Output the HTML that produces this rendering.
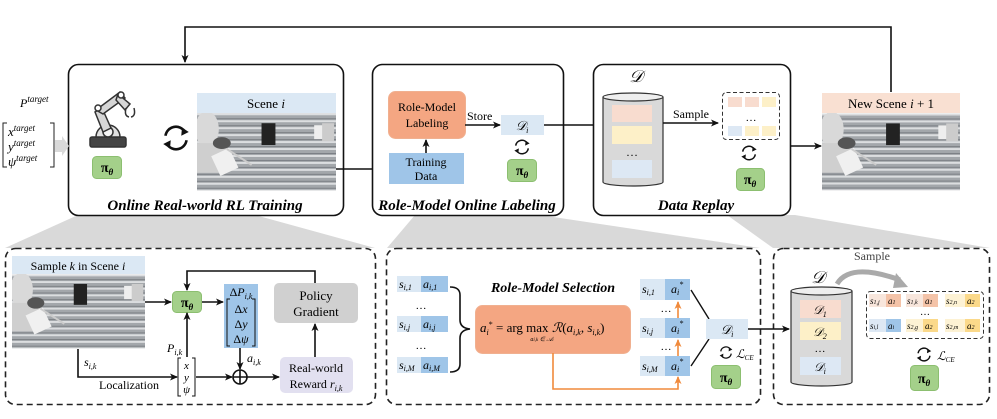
<!DOCTYPE html>
<html><head><meta charset="utf-8"><style>
html,body{margin:0;padding:0;background:#fff;}
svg{display:block;font-family:"Liberation Serif",serif;}
.i{font-style:italic;}
.b{font-weight:bold;font-style:italic;}
</style></head><body>
<svg width="997" height="419" viewBox="0 0 997 419" xmlns="http://www.w3.org/2000/svg">
<defs>
<marker id="ah" markerWidth="8" markerHeight="8" refX="7" refY="4" orient="auto" markerUnits="userSpaceOnUse"><path d="M0,0.5 L8,4 L0,7.5 L2,4 Z" fill="#111"/></marker>
<marker id="aho" markerWidth="8" markerHeight="8" refX="7" refY="4" orient="auto" markerUnits="userSpaceOnUse"><path d="M0,0.5 L8,4 L0,7.5 L2,4 Z" fill="#f08a3c"/></marker>
<pattern id="rails" width="10" height="7" patternUnits="userSpaceOnUse"><rect width="10" height="7" fill="#a3a7ab"/><rect width="10" height="2" y="0" fill="#dcdee0"/><rect width="10" height="1" y="5" fill="#7c8085"/></pattern>
<symbol id="scene" viewBox="0 0 140 78">
<rect width="140" height="78" fill="url(#rails)"/>
<ellipse cx="10" cy="16" rx="12" ry="18" fill="#d9d9d9"/>
<rect x="0" y="30" width="30" height="30" fill="#cfcfcf"/>
<rect x="18" y="38" width="20" height="22" fill="#f0f0f0" transform="rotate(-25 28 49)"/>
<ellipse cx="25" cy="30" rx="9" ry="6" fill="#555"/>
<line x1="30" y1="36" x2="55" y2="52" stroke="#ccc" stroke-width="2"/>
<rect x="65" y="10" width="14" height="22" fill="#222"/>
<rect x="118" y="12" width="10" height="14" fill="#eee"/>
<rect x="126" y="10" width="12" height="18" fill="#ccc"/>
</symbol>
<symbol id="cyc" viewBox="0 0 40 40">
<path d="M6,17 A14,14 0 0 1 32,12" fill="none" stroke="#111" stroke-width="3.5"/>
<path d="M28,6 L37,12 L27,17 Z" fill="#111"/>
<path d="M34,23 A14,14 0 0 1 8,28" fill="none" stroke="#111" stroke-width="3.5"/>
<path d="M12,34 L3,28 L13,23 Z" fill="#111"/>
</symbol>
</defs>

<polygon points="78,215 255,215 375,248 5,248" fill="#d9d9d9"/>
<polygon points="415,215 540,215 760,248 387,248" fill="#d9d9d9"/>
<polygon points="727,215 795,215 990,248 773,248" fill="#d9d9d9"/>

<polyline points="891,92 891,27 185,27 185,62" fill="none" stroke="#111" stroke-width="1.6" marker-end="url(#ah)"/>

<!-- Box 1 -->
<rect x="68.5" y="64.5" width="275" height="151" rx="10" fill="#fff" stroke="#111" stroke-width="1.6"/>
<text x="20" y="107" class="i" font-size="12">P<tspan font-size="9" dy="-5">target</tspan></text>
<path d="M7,123 L3,123 L3,167 L7,167 M50,123 L54,123 L54,167 L50,167" fill="none" stroke="#222" stroke-width="1"/>
<text x="8" y="136" class="i" font-size="13">x<tspan font-size="9" dy="-5">target</tspan></text>
<text x="8" y="151" class="i" font-size="13">y<tspan font-size="9" dy="-5">target</tspan></text>
<text x="8" y="166" class="i" font-size="13">ψ<tspan font-size="9" dy="-5">target</tspan></text>
<polygon points="55,140 62,140 62,136 69,146 62,156 62,152 55,152" fill="#d9d9d9"/>
<g stroke="#333" stroke-width="1.5" fill="#d6d6d6">
<rect x="90" y="137" width="36" height="10" rx="2" fill="#444"/>
<path d="M96,137 A12,12 0 0 1 120,137 Z" fill="#e0e0e0"/>
<circle cx="108" cy="132" r="5" fill="#f4f4f4"/>
<path d="M95,112 L103,132 L111,128 L102,108 Z"/>
<path d="M96,110 L120,92 L125,98 L103,114 Z"/>
<path d="M118,94 L130,104 L125,110 L116,100 Z"/>
<circle cx="98" cy="108" r="3" fill="#fff"/>
<circle cx="121" cy="95" r="3" fill="#fff"/>
<path d="M126,108 Q124,116 129,117 M134,108 Q136,116 131,117" fill="none"/>
</g>
<rect x="92.5" y="156.5" width="29" height="22" rx="4" fill="#a4d08a" stroke="#8cbf70"/>
<text x="107" y="172" text-anchor="middle" font-size="14" font-weight="bold">π<tspan class="i" font-size="9" dy="3">θ</tspan></text>
<use href="#cyc" x="160" y="123" width="32" height="30"/>
<rect x="197" y="93" width="139" height="20" fill="#dbe8f4"/>
<text x="266" y="108" text-anchor="middle" font-size="13">Scene <tspan class="i">i</tspan></text>
<use href="#scene" x="197" y="113" width="139" height="78" preserveAspectRatio="none"/>
<text x="205" y="210" text-anchor="middle" class="b" font-size="15">Online Real-world RL Training</text>
<polyline points="336,169 356,169 388,169" fill="none" stroke="#111" stroke-width="1.6" marker-end="url(#ah)"/>

<!-- Box 2 -->
<rect x="372.5" y="64.5" width="191" height="151" rx="10" fill="#fff" stroke="#111" stroke-width="1.6"/>
<rect x="388.5" y="91.5" width="77" height="47" rx="7" fill="#f4a682" stroke="#f0b090"/>
<text x="427" y="111" text-anchor="middle" font-size="12">Role-Model</text>
<text x="427" y="127" text-anchor="middle" font-size="12">Labeling</text>
<rect x="389" y="153" width="75" height="31" fill="#9fc5e8"/>
<text x="426" y="166" text-anchor="middle" font-size="12">Training</text>
<text x="426" y="180" text-anchor="middle" font-size="12">Data</text>
<line x1="426" y1="153" x2="426" y2="140" stroke="#111" stroke-width="1.6" marker-end="url(#ah)"/>
<text x="467" y="120" font-size="12">Store</text>
<line x1="465" y1="125" x2="500" y2="125" stroke="#111" stroke-width="1.6" marker-end="url(#ah)"/>
<rect x="501" y="115" width="43" height="20" fill="#dbe8f4"/>
<text x="522" y="130" text-anchor="middle" class="i" font-size="13">𝒟<tspan font-size="8" dy="3">i</tspan></text>
<use href="#cyc" x="512" y="138" width="20" height="18"/>
<rect x="507.5" y="159.5" width="29" height="22" rx="4" fill="#a4d08a" stroke="#8cbf70"/>
<text x="522" y="175" text-anchor="middle" font-size="14" font-weight="bold">π<tspan class="i" font-size="9" dy="3">θ</tspan></text>
<text x="467" y="210" text-anchor="middle" class="b" font-size="15">Role-Model Online Labeling</text>
<line x1="544" y1="125" x2="602" y2="125" stroke="#111" stroke-width="1.6" marker-end="url(#ah)"/>

<!-- Box 3 -->
<rect x="593.5" y="64.5" width="197" height="151" rx="10" fill="#fff" stroke="#111" stroke-width="1.6"/>
<text x="636" y="82" text-anchor="middle" class="i" font-size="17">𝒟</text>
<path d="M603,97 L603,182 A30,4 0 0 0 663,182 L663,97" fill="#d9d9d9" stroke="#333" stroke-width="1.2"/>
<ellipse cx="633" cy="97" rx="30" ry="4" fill="#eee" stroke="#333" stroke-width="1.2"/>
<rect x="612" y="105" width="40" height="17" fill="#f8dccf"/>
<rect x="612" y="126" width="40" height="18" fill="#fdf0c8"/>
<text x="632" y="156" text-anchor="middle" font-size="12">…</text>
<rect x="612" y="160" width="40" height="18" fill="#dde8f4"/>
<text x="673" y="118" font-size="12">Sample</text>
<line x1="663" y1="123" x2="718" y2="123" stroke="#111" stroke-width="1.6" marker-end="url(#ah)"/>
<rect x="722.5" y="92.5" width="57" height="47" rx="4" fill="#fff" stroke="#333" stroke-dasharray="4,2.5"/>
<rect x="728" y="97" width="14" height="10" fill="#f8dccf"/><rect x="745" y="97" width="14" height="10" fill="#f8dccf"/><rect x="762" y="97" width="14" height="10" fill="#fdf0c8"/>
<text x="751" y="121" text-anchor="middle" font-size="11">…</text>
<rect x="728" y="126" width="14" height="10" fill="#dde8f4"/><rect x="745" y="126" width="14" height="10" fill="#fdf0c8"/><rect x="762" y="126" width="14" height="10" fill="#fdf0c8"/>
<use href="#cyc" x="739" y="144" width="20" height="18"/>
<rect x="736.5" y="168.5" width="28" height="22" rx="4" fill="#a4d08a" stroke="#8cbf70"/>
<text x="750" y="184" text-anchor="middle" font-size="14" font-weight="bold">π<tspan class="i" font-size="9" dy="3">θ</tspan></text>
<text x="696" y="210" text-anchor="middle" class="b" font-size="15">Data Replay</text>
<line x1="790" y1="146" x2="821" y2="146" stroke="#111" stroke-width="1.6" marker-end="url(#ah)"/>

<rect x="822" y="93" width="138" height="20" fill="#f9e0d2"/>
<text x="891" y="108" text-anchor="middle" font-size="13">New Scene <tspan class="i">i</tspan> + 1</text>
<use href="#scene" x="822" y="113" width="138" height="78" preserveAspectRatio="none"/>

<!-- Bottom box 1 -->
<rect x="5.5" y="248.5" width="370" height="156" rx="10" fill="#fff" stroke="#222" stroke-width="1.6" stroke-dasharray="6,4"/>
<rect x="12" y="256" width="133" height="18" fill="#dbe8f4"/>
<text x="78" y="270" text-anchor="middle" font-size="12">Sample <tspan class="i">k</tspan> in Scene <tspan class="i">i</tspan></text>
<use href="#scene" x="12" y="274" width="133" height="75" preserveAspectRatio="none"/>
<line x1="145" y1="302" x2="171" y2="302" stroke="#111" stroke-width="1.6" marker-end="url(#ah)"/>
<rect x="172.5" y="291.5" width="29" height="21" rx="4" fill="#a4d08a" stroke="#8cbf70"/>
<text x="187" y="307" text-anchor="middle" font-size="14" font-weight="bold">π<tspan class="i" font-size="9" dy="3">θ</tspan></text>
<line x1="202" y1="302" x2="223" y2="302" stroke="#111" stroke-width="1.6" marker-end="url(#ah)"/>
<rect x="224" y="284" width="34" height="64" fill="#9fc5e8"/>
<text x="241" y="296" text-anchor="middle" font-size="12">Δ<tspan class="i">P</tspan><tspan class="i" font-size="8" dy="3">i,k</tspan></text>
<path d="M230,299 L227,299 L227,346 L230,346 M252,299 L255,299 L255,346 L252,346" fill="none" stroke="#111"/>
<text x="241" y="313" text-anchor="middle" font-size="12">Δ<tspan class="i">x</tspan></text>
<text x="241" y="328" text-anchor="middle" font-size="12">Δ<tspan class="i">y</tspan></text>
<text x="241" y="343" text-anchor="middle" font-size="12">Δ<tspan class="i">ψ</tspan></text>
<rect x="274" y="283" width="84" height="40" rx="5" fill="#d0d0d0"/>
<text x="316" y="300" text-anchor="middle" font-size="13">Policy</text>
<text x="316" y="316" text-anchor="middle" font-size="13">Gradient</text>
<polyline points="315,283 315,271 187,271 187,290" fill="none" stroke="#111" stroke-width="1.6" marker-end="url(#ah)"/>
<line x1="187" y1="357" x2="187" y2="313" stroke="#111" stroke-width="1.6" marker-end="url(#ah)"/>
<text x="167" y="352" class="i" font-size="12">P<tspan font-size="8" dy="3">i,k</tspan></text>
<text x="84" y="366" class="i" font-size="12">s<tspan font-size="8" dy="3">i,k</tspan></text>
<polyline points="78,349 78,377 177,377" fill="none" stroke="#111" stroke-width="1.6" marker-end="url(#ah)"/>
<text x="99" y="389" font-size="12">Localization</text>
<path d="M181,358 L178,358 L178,396 L181,396 M192,358 L195,358 L195,396 L192,396" fill="none" stroke="#111"/>
<text x="186.5" y="369" text-anchor="middle" class="i" font-size="11">x</text>
<text x="186.5" y="381" text-anchor="middle" class="i" font-size="11">y</text>
<text x="186.5" y="393" text-anchor="middle" class="i" font-size="11">ψ</text>
<line x1="196" y1="377" x2="232" y2="377" stroke="#111" stroke-width="1.6" marker-end="url(#ah)"/>
<line x1="240" y1="348" x2="240" y2="369" stroke="#111" stroke-width="1.6" marker-end="url(#ah)"/>
<circle cx="240" cy="377" r="7" fill="#fff" stroke="#111" stroke-width="1.6"/>
<path d="M233,377 H247 M240,370 V384" stroke="#111" stroke-width="1.6"/>
<text x="247" y="362" class="i" font-size="12">a<tspan font-size="8" dy="3">i,k</tspan></text>
<line x1="247" y1="377" x2="279" y2="377" stroke="#111" stroke-width="1.6" marker-end="url(#ah)"/>
<rect x="280" y="357" width="73" height="36" rx="5" fill="#e2e0f0"/>
<text x="316" y="372" text-anchor="middle" font-size="12">Real-world</text>
<text x="316" y="388" text-anchor="middle" font-size="12">Reward <tspan class="i">r</tspan><tspan class="i" font-size="8" dy="3">i,k</tspan></text>
<line x1="315" y1="357" x2="315" y2="324" stroke="#111" stroke-width="1.6" marker-end="url(#ah)"/>

<!-- Bottom box 2 -->
<rect x="386.5" y="248.5" width="374" height="156" rx="10" fill="#fff" stroke="#222" stroke-width="1.6" stroke-dasharray="6,4"/>
<g font-size="12" class="i">
<rect x="397" y="276" width="24" height="16" fill="#dbe8f4"/><rect x="421" y="276" width="27" height="16" fill="#9fc5e8"/>
<text x="399" y="288">s<tspan font-size="8" dy="2">i,1</tspan></text><text x="423" y="288">a<tspan font-size="8" dy="2">i,1</tspan></text>
<rect x="397" y="316" width="24" height="16" fill="#dbe8f4"/><rect x="421" y="316" width="27" height="16" fill="#9fc5e8"/>
<text x="399" y="328">s<tspan font-size="8" dy="2">i,j</tspan></text><text x="423" y="328">a<tspan font-size="8" dy="2">i,j</tspan></text>
<rect x="397" y="357" width="24" height="16" fill="#dbe8f4"/><rect x="421" y="357" width="27" height="16" fill="#9fc5e8"/>
<text x="399" y="369">s<tspan font-size="8" dy="2">i,M</tspan></text><text x="423" y="369">a<tspan font-size="8" dy="2">i,M</tspan></text>
</g>
<text x="421" y="309" text-anchor="middle" font-size="11">…</text>
<text x="421" y="349" text-anchor="middle" font-size="11">…</text>
<path d="M450,287 Q460,287 460,295 L460,320 Q460,328 470,329 Q460,330 460,338 L460,364 Q460,372 450,372" fill="none" stroke="#111" stroke-width="1.6"/>
<text x="553" y="292" text-anchor="middle" class="b" font-size="14">Role-Model Selection</text>
<rect x="475.5" y="305.5" width="155" height="48" rx="7" fill="#f4a682" stroke="#f0b090"/>
<text x="480" y="332" font-size="13"><tspan class="i">a</tspan><tspan class="i" font-size="8" dy="3">i</tspan><tspan font-size="8" dy="-8">*</tspan><tspan dy="5"> = arg max </tspan><tspan class="i">ℛ</tspan>(<tspan class="i">a</tspan><tspan class="i" font-size="8" dy="3">i,k</tspan><tspan dy="-3">, </tspan><tspan class="i">s</tspan><tspan class="i" font-size="8" dy="3">i,k</tspan><tspan dy="-3">)</tspan></text>
<text x="542" y="341" text-anchor="middle" class="i" font-size="6">a<tspan font-size="5">i,k</tspan> ∈ 𝒜<tspan font-size="5">i</tspan></text>
<polyline points="553,353 553,389 678,389 678,377" fill="none" stroke="#f08a3c" stroke-width="1.6" marker-end="url(#aho)"/>
<line x1="678" y1="356" x2="678" y2="340" stroke="#f08a3c" stroke-width="1.6" marker-end="url(#aho)"/>
<line x1="678" y1="318" x2="678" y2="302" stroke="#f08a3c" stroke-width="1.6" marker-end="url(#aho)"/>
<g font-size="12" class="i">
<rect x="640" y="279" width="25" height="21" fill="#dbe8f4"/><rect x="665" y="279" width="25" height="21" fill="#9fc5e8"/>
<text x="642" y="293">s<tspan font-size="8" dy="2">i,1</tspan></text><text x="671" y="293">a<tspan font-size="8" dy="2">i</tspan><tspan font-size="8" dy="-8">*</tspan></text>
<rect x="640" y="318" width="25" height="20" fill="#dbe8f4"/><rect x="665" y="318" width="25" height="20" fill="#9fc5e8"/>
<text x="642" y="332">s<tspan font-size="8" dy="2">i,j</tspan></text><text x="671" y="332">a<tspan font-size="8" dy="2">i</tspan><tspan font-size="8" dy="-8">*</tspan></text>
<rect x="640" y="356" width="25" height="20" fill="#dbe8f4"/><rect x="665" y="356" width="25" height="20" fill="#9fc5e8"/>
<text x="642" y="370">s<tspan font-size="8" dy="2">i,M</tspan></text><text x="671" y="370">a<tspan font-size="8" dy="2">i</tspan><tspan font-size="8" dy="-8">*</tspan></text>
</g>
<text x="666" y="312" text-anchor="middle" font-size="11">…</text>
<text x="666" y="350" text-anchor="middle" font-size="11">…</text>
<path d="M691,290 L709,319 M691,366 L709,339" stroke="#111" stroke-width="1.4"/>
<rect x="706" y="319" width="42" height="20" fill="#dbe8f4"/>
<text x="727" y="334" text-anchor="middle" class="i" font-size="13">𝒟<tspan font-size="8" dy="3">i</tspan></text>
<use href="#cyc" x="718" y="345" width="16" height="15"/>
<text x="736" y="358" class="i" font-size="12">ℒ<tspan font-size="7" dy="2">CE</tspan></text>
<rect x="711.5" y="365.5" width="29" height="23" rx="4" fill="#a4d08a" stroke="#8cbf70"/>
<text x="726" y="382" text-anchor="middle" font-size="14" font-weight="bold">π<tspan class="i" font-size="9" dy="3">θ</tspan></text>

<!-- Bottom box 3 -->
<rect x="773.5" y="248.5" width="216" height="156" rx="10" fill="none" stroke="#222" stroke-width="1.6" stroke-dasharray="6,4"/>
<line x1="748" y1="329" x2="789" y2="329" stroke="#111" stroke-width="1.6" marker-end="url(#ah)"/>
<text x="872" y="260" text-anchor="middle" font-size="12" fill="#444">Sample</text>
<text x="818" y="283" text-anchor="middle" class="i" font-size="17">𝒟</text>
<path d="M837,284 Q850,262 900,280" fill="none" stroke="#aaa" stroke-width="5"/>
<path d="M896,273 L908,287 L893,288 Z" fill="#aaa"/>
<path d="M791,291 L791,382 A30.5,4 0 0 0 852,382 L852,291" fill="#d9d9d9" stroke="#333" stroke-width="1.2"/>
<ellipse cx="821.5" cy="291" rx="30.5" ry="4" fill="#eee" stroke="#333" stroke-width="1.2"/>
<rect x="800" y="300" width="41" height="18" fill="#f8dccf"/>
<rect x="800" y="322" width="41" height="18" fill="#fdf0c8"/>
<rect x="800" y="357" width="41" height="18" fill="#dde8f4"/>
<text x="820" y="314" text-anchor="middle" class="i" font-size="12">𝒟<tspan font-size="8" dy="3">1</tspan></text>
<text x="820" y="336" text-anchor="middle" class="i" font-size="12">𝒟<tspan font-size="8" dy="3">2</tspan></text>
<text x="820" y="352" text-anchor="middle" font-size="11">…</text>
<text x="820" y="371" text-anchor="middle" class="i" font-size="12">𝒟<tspan font-size="8" dy="3">i</tspan></text>
<rect x="866.5" y="291.5" width="117" height="47" rx="4" fill="#fff" stroke="#333" stroke-dasharray="4,2.5"/>
<g font-size="9" class="i">
<rect x="869" y="294" width="17" height="13" fill="#f8e6dc"/><rect x="886" y="294" width="15" height="13" fill="#f4c3a8"/>
<rect x="906" y="294" width="17" height="13" fill="#f8e6dc"/><rect x="923" y="294" width="15" height="13" fill="#f4c3a8"/>
<rect x="945" y="294" width="20" height="13" fill="#fdf2d4"/><rect x="965" y="294" width="15" height="13" fill="#fbd98a"/>
<text x="870" y="304">s<tspan font-size="6">1,j</tspan></text><text x="888" y="304">a<tspan font-size="6">1</tspan></text>
<text x="907" y="304">s<tspan font-size="6">1,k</tspan></text><text x="925" y="304">a<tspan font-size="6">1</tspan></text>
<text x="946" y="304">s<tspan font-size="6">2,n</tspan></text><text x="967" y="304">a<tspan font-size="6">2</tspan></text>
<rect x="869" y="319" width="17" height="13" fill="#dde8f4"/><rect x="886" y="319" width="15" height="13" fill="#9fc5e8"/>
<rect x="906" y="319" width="17" height="13" fill="#fdf2d4"/><rect x="923" y="319" width="15" height="13" fill="#fbd98a"/>
<rect x="945" y="319" width="20" height="13" fill="#fdf2d4"/><rect x="965" y="319" width="15" height="13" fill="#fbd98a"/>
<text x="870" y="329">s<tspan font-size="6">i,l</tspan></text><text x="888" y="329">a<tspan font-size="6">i</tspan></text>
<text x="907" y="329">s<tspan font-size="6">2,g</tspan></text><text x="925" y="329">a<tspan font-size="6">2</tspan></text>
<text x="946" y="329">s<tspan font-size="6">2,m</tspan></text><text x="967" y="329">a<tspan font-size="6">2</tspan></text>
</g>
<text x="925" y="315" text-anchor="middle" font-size="10">…</text>
<use href="#cyc" x="915" y="346" width="18" height="17"/>
<text x="937" y="360" class="i" font-size="12">ℒ<tspan font-size="7" dy="2">CE</tspan></text>
<rect x="910.5" y="365.5" width="28" height="25" rx="4" fill="#a4d08a" stroke="#8cbf70"/>
<text x="924" y="383" text-anchor="middle" font-size="14" font-weight="bold">π<tspan class="i" font-size="9" dy="3">θ</tspan></text>
</svg>
</body></html>
